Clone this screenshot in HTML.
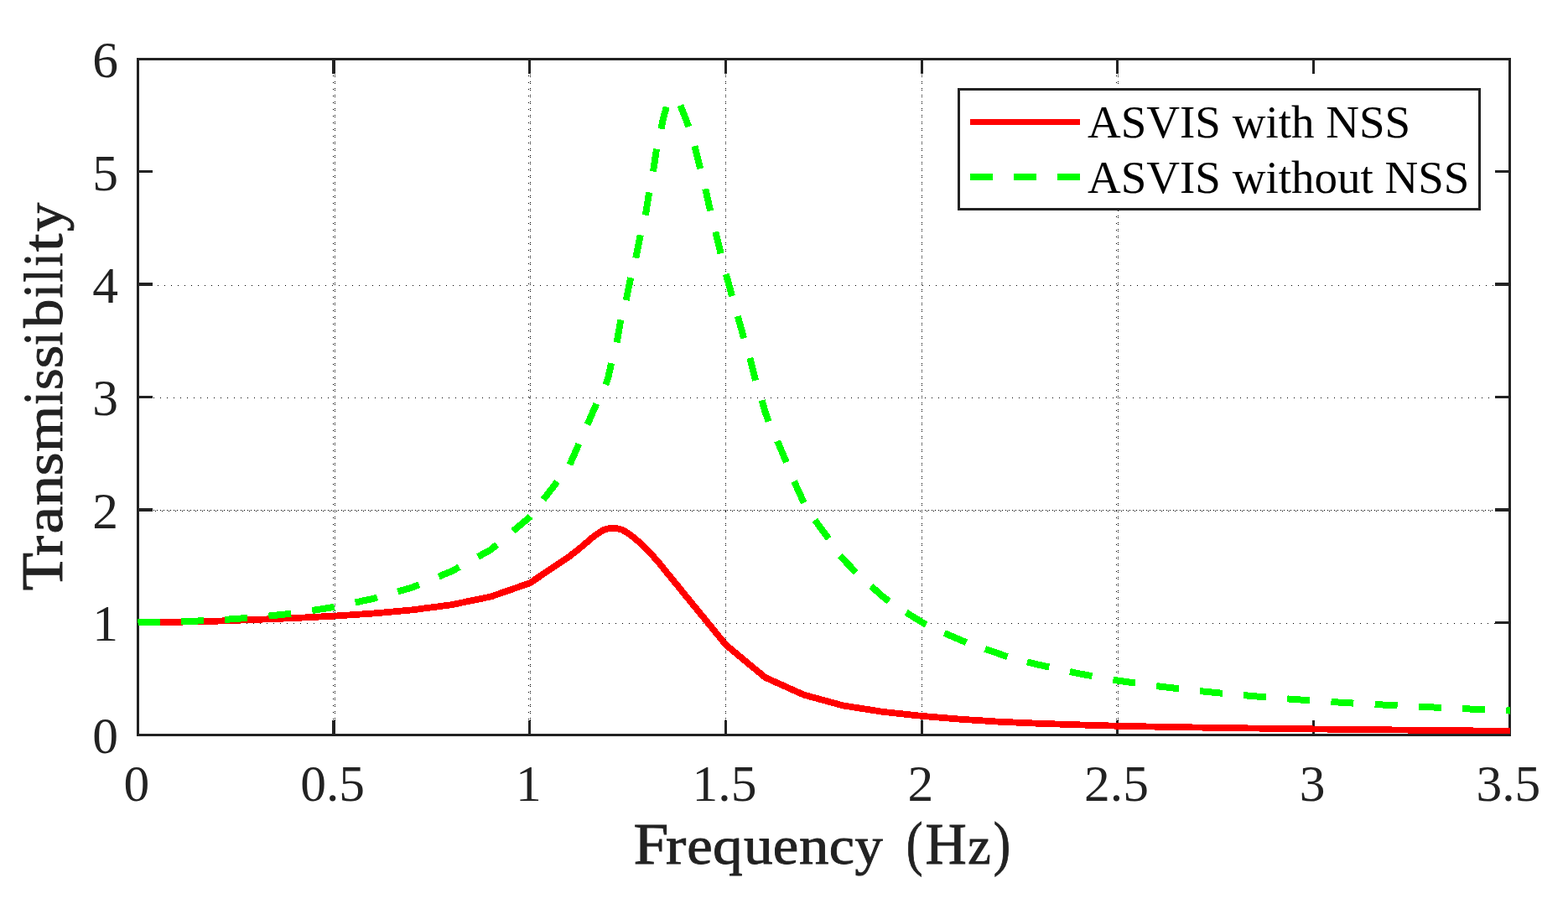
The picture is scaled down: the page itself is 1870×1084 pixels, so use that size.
<!DOCTYPE html>
<html lang="en">
<head>
<meta charset="utf-8">
<title>Transmissibility vs Frequency</title>
<style>
html,body{margin:0;padding:0;background:#fff;}
body{width:1870px;height:1084px;overflow:hidden;}
svg{display:block;}
.tick{font-family:"Liberation Serif",serif;font-size:61.5px;fill:#222222;}
.leg{font-family:"Liberation Serif",serif;font-size:55px;fill:#000;}
.lab{font-family:"Liberation Serif",serif;font-size:69.5px;fill:#222222;stroke:#222222;stroke-width:0.9px;}
</style>
</head>
<body>
<svg width="1870" height="1084" viewBox="0 0 1870 1084" role="img" aria-label="Transmissibility versus Frequency (Hz) for ASVIS with NSS and ASVIS without NSS">
<title>Transmissibility versus Frequency (Hz)</title>
<desc>Line chart of Transmissibility against Frequency (Hz): ASVIS with NSS (solid red) and ASVIS without NSS (dashed green).</desc>
<rect x="0" y="0" width="1870" height="1084" fill="#ffffff"/>
<defs><clipPath id="clip"><rect x="164" y="72" width="1637" height="803"/></clipPath></defs>

<g stroke="#000" stroke-width="1" fill="none" shape-rendering="crispEdges">
<line x1="397.5" y1="90" x2="397.5" y2="461" stroke-dasharray="1 7"/>
<line x1="397.5" y1="465" x2="397.5" y2="859" stroke-dasharray="1 7"/>
<line x1="399.5" y1="89" x2="399.5" y2="461" stroke-dasharray="1 7"/>
<line x1="399.5" y1="464" x2="399.5" y2="859" stroke-dasharray="1 7"/>
<line x1="399.5" y1="91" x2="399.5" y2="461" stroke-dasharray="1 7"/>
<line x1="399.5" y1="466" x2="399.5" y2="859" stroke-dasharray="1 7"/>
<line x1="630.5" y1="90" x2="630.5" y2="461" stroke-dasharray="1 7"/>
<line x1="630.5" y1="465" x2="630.5" y2="859" stroke-dasharray="1 7"/>
<line x1="632.5" y1="89" x2="632.5" y2="461" stroke-dasharray="1 7"/>
<line x1="632.5" y1="464" x2="632.5" y2="859" stroke-dasharray="1 7"/>
<line x1="632.5" y1="91" x2="632.5" y2="461" stroke-dasharray="1 7"/>
<line x1="632.5" y1="466" x2="632.5" y2="859" stroke-dasharray="1 7"/>
<line x1="865.5" y1="89" x2="865.5" y2="461" stroke-dasharray="1 7"/>
<line x1="865.5" y1="464" x2="865.5" y2="859" stroke-dasharray="1 7"/>
<line x1="865.5" y1="91" x2="865.5" y2="461" stroke-dasharray="1 7"/>
<line x1="865.5" y1="466" x2="865.5" y2="859" stroke-dasharray="1 7"/>
<line x1="1099.5" y1="89" x2="1099.5" y2="461" stroke-dasharray="1 7"/>
<line x1="1099.5" y1="464" x2="1099.5" y2="859" stroke-dasharray="1 7"/>
<line x1="1099.5" y1="91" x2="1099.5" y2="461" stroke-dasharray="1 7"/>
<line x1="1099.5" y1="466" x2="1099.5" y2="859" stroke-dasharray="1 7"/>
<line x1="1331.5" y1="90" x2="1331.5" y2="461" stroke-dasharray="1 7"/>
<line x1="1331.5" y1="465" x2="1331.5" y2="859" stroke-dasharray="1 7"/>
<line x1="1333.5" y1="89" x2="1333.5" y2="461" stroke-dasharray="1 7"/>
<line x1="1333.5" y1="464" x2="1333.5" y2="859" stroke-dasharray="1 7"/>
<line x1="1333.5" y1="91" x2="1333.5" y2="461" stroke-dasharray="1 7"/>
<line x1="1333.5" y1="466" x2="1333.5" y2="859" stroke-dasharray="1 7"/>
<line x1="190" y1="743.5" x2="1783" y2="743.5" stroke-dasharray="1 7"/>
<line x1="183" y1="608.5" x2="1783" y2="608.5" stroke-dasharray="1 7"/>
<line x1="187" y1="608.5" x2="1783" y2="608.5" stroke-dasharray="1 7"/>
<line x1="185" y1="609.5" x2="1783" y2="609.5" stroke-dasharray="1 7"/>
<line x1="183" y1="474.5" x2="1783" y2="474.5" stroke-dasharray="1 7"/>
<line x1="188" y1="340.5" x2="1783" y2="340.5" stroke-dasharray="1 7"/>
</g>
<g fill="#222222">
<rect x="163" y="69" width="1639" height="3"/>
<rect x="163" y="875" width="1639" height="3"/>
<rect x="163" y="69" width="3" height="809"/>
<rect x="1799" y="69" width="3" height="809"/>
<rect x="396" y="859" width="4" height="17"/>
<rect x="396" y="71" width="4" height="17"/>
<rect x="630" y="859" width="3" height="17"/>
<rect x="630" y="71" width="3" height="17"/>
<rect x="864" y="859" width="3" height="17"/>
<rect x="864" y="71" width="3" height="17"/>
<rect x="1098" y="859" width="3" height="17"/>
<rect x="1098" y="71" width="3" height="17"/>
<rect x="1331" y="859" width="3" height="17"/>
<rect x="1331" y="71" width="3" height="17"/>
<rect x="1565" y="859" width="3" height="17"/>
<rect x="1565" y="71" width="3" height="17"/>
<rect x="165" y="203" width="17" height="3"/>
<rect x="1783" y="203" width="17" height="3"/>
<rect x="165" y="337" width="17" height="4"/>
<rect x="1783" y="337" width="17" height="4"/>
<rect x="165" y="472" width="17" height="3"/>
<rect x="1783" y="472" width="17" height="3"/>
<rect x="165" y="606" width="17" height="4"/>
<rect x="1783" y="606" width="17" height="4"/>
<rect x="165" y="741" width="17" height="3"/>
<rect x="1783" y="741" width="17" height="3"/>
</g>
<g clip-path="url(#clip)" fill="none" stroke-linejoin="round" shape-rendering="crispEdges">
<polyline points="164.50,742.17 211.24,741.76 257.99,740.69 304.73,738.94 351.47,737.06 398.21,734.64 444.96,731.55 491.70,727.39 538.44,721.21 585.19,711.54 631.93,695.28 678.67,663.85 682.50,660.90 689.90,655.10 697.40,648.90 704.90,642.20 712.40,636.60 719.90,631.90 727.40,630.00 731.10,629.90 734.90,630.00 742.40,631.90 749.80,636.40 757.30,642.20 764.80,648.70 772.30,655.80 779.80,664.30 787.30,672.90 794.80,682.20 865.60,768.90 912.40,807.80 959.10,828.80 1005.90,841.50 1052.60,848.80 1099.40,853.90 1146.10,857.76 1192.84,860.76 1239.59,862.79 1286.33,864.37 1333.07,865.74 1379.81,866.67 1426.56,867.49 1473.30,868.21 1520.04,868.85 1566.79,869.43 1613.53,869.94 1660.27,870.40 1707.01,870.91 1753.76,871.38 1800.50,871.79 1809.85,871.87" stroke="#ff0000" stroke-width="7.8"/>
<g stroke="#00ff00" stroke-width="8">
<polyline points="164.50,742.17 211.24,741.49 257.99,739.63 304.73,736.25 351.47,731.32 398.21,723.97 444.96,713.91 491.70,700.50 538.44,681.32 585.19,655.65 631.93,616.54 678.67,556.13 717.00,468.63" stroke-dasharray="27.0 25.3" stroke-dashoffset="0.8"/>
<polyline points="722.31,458.77 725.60,449.00 729.13,433.11"/>
<polyline points="735.70,408.49 740.30,381.41"/>
<polyline points="746.68,358.09 752.12,331.21"/>
<polyline points="758.33,307.79 763.72,280.31"/>
<polyline points="769.80,256.69 774.20,229.41"/>
<polyline points="779.01,204.49 782.99,177.61"/>
<polyline points="788.38,153.79 790.60,142.90 792.90,134.30 794.81,127.47"/>
<polyline points="811.38,125.64 814.80,134.30 818.20,142.90 821.31,151.16"/>
<polyline points="828.35,174.22 835.25,201.13"/>
<polyline points="841.32,225.31 847.13,251.39"/>
<polyline points="853.36,276.42 859.54,302.28"/>
<polyline points="865.84,326.92 873.06,353.08"/>
<polyline points="879.81,377.12 887.16,403.38"/>
<polyline points="894.25,426.92 901.05,453.63"/>
<polyline points="908.74,477.42 912.00,489.50 916.60,502.67"/>
<polyline points="927.17,525.95 937.83,551.35"/>
<polyline points="947.05,574.05 958.75,599.55"/>
<polyline points="971.84,620.22 988.26,642.38"/>
<polyline points="1001.59,662.57 1020.91,682.83"/>
<polyline points="1038.95,699.00 1052.60,711.20 1060.17,717.07"/>
<polyline points="1080.64,730.39 1104.48,745.06"/>
<polyline points="1126.25,754.96 1152.40,766.14"/>
<polyline points="1174.78,773.80 1201.37,783.10"/>
<polyline points="1225.00,789.27 1239.59,792.96 1286.33,803.22 1333.07,811.59 1379.81,818.17 1426.56,823.66 1473.30,828.30 1520.04,832.26 1566.79,835.66 1613.53,838.58 1660.27,841.13 1707.01,843.37 1753.76,845.55 1800.50,847.51 1809.85,847.87" stroke-dasharray="27.0 25.3"/>
</g></g>
<g class="tick">
<text x="162.9" y="955.2" text-anchor="middle">0</text>
<text x="396.6" y="955.2" text-anchor="middle">0.5</text>
<text x="630.3" y="955.2" text-anchor="middle">1</text>
<text x="864.0" y="955.2" text-anchor="middle">1.5</text>
<text x="1097.8" y="955.2" text-anchor="middle">2</text>
<text x="1331.5" y="955.2" text-anchor="middle">2.5</text>
<text x="1565.2" y="955.2" text-anchor="middle">3</text>
<text x="1798.9" y="955.2" text-anchor="middle">3.5</text>
<text x="141" y="898.3" text-anchor="end">0</text>
<text x="141" y="764.0" text-anchor="end">1</text>
<text x="141" y="629.6" text-anchor="end">2</text>
<text x="141" y="495.3" text-anchor="end">3</text>
<text x="141" y="361.0" text-anchor="end">4</text>
<text x="141" y="226.6" text-anchor="end">5</text>
<text x="141" y="92.3" text-anchor="end">6</text>
</g>
<text class="lab" y="1029.8" aria-label="Frequency (Hz)"><tspan x="755.48" font-size="68.9" textLength="41.89" lengthAdjust="spacingAndGlyphs">F</tspan><tspan x="794.09" font-size="63.6" textLength="24.30" lengthAdjust="spacingAndGlyphs">r</tspan><tspan x="819.17" font-size="63.6" textLength="30.46" lengthAdjust="spacingAndGlyphs">e</tspan><tspan x="850.07" font-size="63.6" textLength="35.67" lengthAdjust="spacingAndGlyphs">q</tspan><tspan x="887.04" font-size="63.6" textLength="34.59" lengthAdjust="spacingAndGlyphs">u</tspan><tspan x="921.87" font-size="63.6" textLength="30.46" lengthAdjust="spacingAndGlyphs">e</tspan><tspan x="953.03" font-size="63.6" textLength="35.40" lengthAdjust="spacingAndGlyphs">n</tspan><tspan x="988.86" font-size="63.6" textLength="30.18" lengthAdjust="spacingAndGlyphs">c</tspan><tspan x="1019.54" font-size="63.6" textLength="33.27" lengthAdjust="spacingAndGlyphs">y</tspan><tspan> </tspan><tspan x="1080.65" font-size="72.6" textLength="19.71" lengthAdjust="spacingAndGlyphs">(</tspan><tspan x="1103.38" font-size="68.9" textLength="49.26" lengthAdjust="spacingAndGlyphs">H</tspan><tspan x="1154.19" font-size="63.6" textLength="27.49" lengthAdjust="spacingAndGlyphs">z</tspan><tspan x="1184.67" font-size="72.6" textLength="20.49" lengthAdjust="spacingAndGlyphs">)</tspan></text>
<text class="lab" transform="translate(74.2,0) rotate(-90)" y="0" aria-label="Transmissibility"><tspan x="-704.29" font-size="68.9" textLength="45.16" lengthAdjust="spacingAndGlyphs">T</tspan><tspan x="-663.10" font-size="63.6" textLength="24.08" lengthAdjust="spacingAndGlyphs">r</tspan><tspan x="-636.55" font-size="63.6" textLength="32.81" lengthAdjust="spacingAndGlyphs">a</tspan><tspan x="-603.10" font-size="63.6" textLength="36.05" lengthAdjust="spacingAndGlyphs">n</tspan><tspan x="-567.17" font-size="63.6" textLength="27.69" lengthAdjust="spacingAndGlyphs">s</tspan><tspan x="-538.94" font-size="63.6" textLength="55.20" lengthAdjust="spacingAndGlyphs">m</tspan><tspan x="-482.68" font-size="66.6" textLength="16.24" lengthAdjust="spacingAndGlyphs">i</tspan><tspan x="-464.94" font-size="63.6" textLength="25.57" lengthAdjust="spacingAndGlyphs">s</tspan><tspan x="-439.34" font-size="63.6" textLength="27.44" lengthAdjust="spacingAndGlyphs">s</tspan><tspan x="-411.88" font-size="66.6" textLength="16.24" lengthAdjust="spacingAndGlyphs">i</tspan><tspan x="-390.85" font-size="66.1" textLength="34.10" lengthAdjust="spacingAndGlyphs">b</tspan><tspan x="-355.34" font-size="66.6" textLength="17.06" lengthAdjust="spacingAndGlyphs">i</tspan><tspan x="-336.39" font-size="66.1" textLength="15.77" lengthAdjust="spacingAndGlyphs">l</tspan><tspan x="-317.68" font-size="66.6" textLength="16.24" lengthAdjust="spacingAndGlyphs">i</tspan><tspan x="-300.21" font-size="68.0" textLength="21.72" lengthAdjust="spacingAndGlyphs">t</tspan><tspan x="-275.99" font-size="63.6" textLength="34.20" lengthAdjust="spacingAndGlyphs">y</tspan></text>
<rect x="1143.5" y="106.5" width="621" height="143" fill="#fff" stroke="#222222" stroke-width="3"/>
<g shape-rendering="crispEdges">
<line x1="1157" y1="145.5" x2="1288" y2="145.5" stroke="#ff0000" stroke-width="7"/>
<line x1="1157" y1="211" x2="1288" y2="211" stroke="#00ff00" stroke-width="8" stroke-dasharray="27 25"/>
</g>
<text class="leg" x="1297" y="163.5">ASVIS with NSS</text>
<text class="leg" x="1297" y="230">ASVIS without NSS</text>
</svg>
</body>
</html>
